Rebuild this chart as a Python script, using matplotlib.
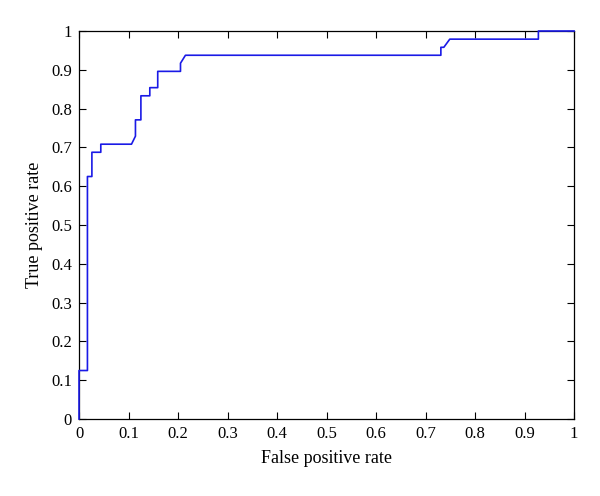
import matplotlib
matplotlib.use('Agg')
import matplotlib.pyplot as plt
from matplotlib.ticker import FuncFormatter

# ROC curve points (fpr, tpr)
fpr = [0.0, 0.0, 0.017, 0.017, 0.026, 0.026, 0.044, 0.044, 0.106, 0.114, 0.114,
       0.125, 0.125, 0.143, 0.143, 0.159, 0.159, 0.205, 0.205, 0.215, 0.731,
       0.731, 0.737, 0.749, 0.928, 0.928, 1.0]
tpr = [0.0, 0.125, 0.125, 0.625, 0.625, 0.6875, 0.6875, 0.7083, 0.7083, 0.729,
       0.771, 0.771, 0.833, 0.833, 0.854, 0.854, 0.896, 0.896, 0.917, 0.9375,
       0.9375, 0.958, 0.958, 0.979, 0.979, 1.0, 1.0]

ticks = [i / 10 for i in range(11)]

plt.rcParams['font.family'] = ['Liberation Serif', 'DejaVu Serif']

fig = plt.figure(figsize=(6, 4.96), dpi=100)
fig.patch.set_facecolor('white')
ax = fig.add_axes([0.1317, 0.1552, 0.825, 0.7823])
ax.plot(fpr, tpr, color='#1a1ae6', linewidth=1.2, clip_on=False, zorder=5)
ax.set_xlim(0, 1)
ax.set_ylim(0, 1)
ax.set_xticks(ticks)
ax.set_yticks(ticks)
fmt = FuncFormatter(lambda v, p: '%g' % round(v, 2))
ax.xaxis.set_major_formatter(fmt)
ax.yaxis.set_major_formatter(fmt)
ax.tick_params(direction='in', top=True, right=True, length=5, width=0.8,
               labelsize=12, pad=5)
for s in ax.spines.values():
    s.set_linewidth(0.9)
ax.set_xlabel('False positive rate', fontsize=13, labelpad=6)
ax.set_ylabel('True positive rate', fontsize=13, labelpad=6)

fig.savefig('out.png', dpi=100)
